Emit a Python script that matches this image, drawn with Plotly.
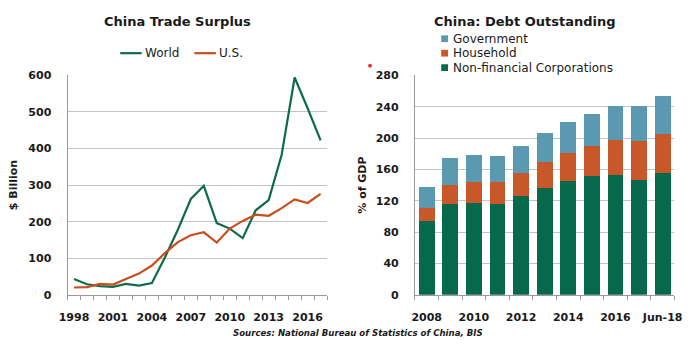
import plotly.graph_objects as go

# China trade surplus, $ billion
years = list(range(1998, 2018))
world = [43, 29, 24, 22, 30, 25, 32, 102, 178, 262, 298, 196, 181, 155, 231, 259, 383, 594, 510, 422]
us = [20, 21, 30, 28, 43, 58, 80, 114, 144, 163, 171, 143, 181, 202, 219, 216, 237, 261, 251, 276]
trade_ticks = [1998, 2001, 2004, 2007, 2010, 2013, 2016]

# China debt outstanding, % of GDP
debt_periods = ["2008", "2009", "2010", "2011", "2012", "2013", "2014", "2015", "2016", "2017", "Jun-18"]
corporations = [94, 116, 117, 116, 126, 136, 145, 151, 153, 147, 155]
household = [17, 24, 27, 28, 30, 34, 36, 39, 45, 49, 50]
government = [27, 34, 34, 33, 34, 36, 39, 41, 43, 45, 48]
debt_ticks = ["2008", "2010", "2012", "2014", "2016", "Jun-18"]

W, H = 700, 349
GREEN = "#0F6B4A"
ORANGE = "#C84E1E"
C_CORP = "#07694B"
C_HH = "#C8582A"
C_GOV = "#5A99AF"
GRID = "#C4C4C4"
AXIS = "#9A9A9A"
FONT = "DejaVu Sans"


def px(x):
    return x / W


def py(y):
    return 1 - y / H


fig = go.Figure()

fig.add_trace(go.Scatter(x=years, y=world, mode="lines", name="World",
                         line=dict(color=GREEN, width=2.2), xaxis="x", yaxis="y",
                         showlegend=False))
fig.add_trace(go.Scatter(x=years, y=us, mode="lines", name="U.S.",
                         line=dict(color=ORANGE, width=2.2), xaxis="x", yaxis="y",
                         showlegend=False))

xi = list(range(len(debt_periods)))
for name, vals, col in [("Non-financial Corporations", corporations, C_CORP),
                        ("Household", household, C_HH),
                        ("Government", government, C_GOV)]:
    fig.add_trace(go.Bar(x=xi, y=vals, name=name, marker=dict(color=col, line=dict(width=0)),
                         width=0.67, xaxis="x2", yaxis="y2", showlegend=False))

tick_font = dict(family=FONT, size=11, color="#1a1a1a", weight="bold")
y_dom = [py(300), py(72)]

fig.update_layout(
    width=W, height=H,
    margin=dict(l=0, r=0, t=0, b=0),
    paper_bgcolor="white", plot_bgcolor="white",
    barmode="stack",
    xaxis=dict(domain=[px(60), px(326)], range=[1997.5, 2017.5],
               tickvals=trade_ticks, ticks="", showgrid=False,
               showline=True, linecolor=AXIS, linewidth=1,
               minor=dict(ticks="outside", dtick=1, tick0=1997.5, ticklen=4,
                          tickcolor=AXIS, showgrid=False),
               tickfont=tick_font, ticklabelstandoff=12, zeroline=False),
    yaxis=dict(domain=y_dom, range=[0, 600], dtick=100, showgrid=True,
               gridcolor=GRID, gridwidth=1, showline=True, linecolor=AXIS,
               ticks="", tickfont=tick_font, ticklabelstandoff=13, zeroline=False,
               title=dict(text="$ Billion", font=dict(family=FONT, size=11, color="#1a1a1a", weight="bold"),
                          standoff=8)),
    xaxis2=dict(domain=[px(416), px(682)], range=[-0.5, 10.5],
                tickvals=[0, 2, 4, 6, 8, 10], ticktext=debt_ticks, ticks="",
                showgrid=False, showline=True, linecolor=AXIS, linewidth=1,
                minor=dict(ticks="outside", dtick=1, tick0=-0.5, ticklen=4,
                           tickcolor=AXIS, showgrid=False),
                tickfont=tick_font, ticklabelstandoff=12, zeroline=False),
    yaxis2=dict(domain=y_dom, range=[0, 280], dtick=40, showgrid=True,
                gridcolor=GRID, gridwidth=1, showline=True, linecolor=AXIS,
                ticks="", tickfont=tick_font, ticklabelstandoff=13, zeroline=False,
                anchor="x2",
                title=dict(text="% of GDP", font=dict(family=FONT, size=11, color="#1a1a1a", weight="bold"),
                           standoff=6)),
)


def label(text, x, y, size, xanchor="center"):
    return dict(text=text, x=px(x), y=py(y), xref="paper", yref="paper",
                xanchor=xanchor, yanchor="middle", showarrow=False,
                font=dict(family=FONT, size=size, color="#1a1a1a"))


annotations = [
    label("<b>China Trade Surplus</b>", 173, 16, 13),
    label("<b>China: Debt Outstanding</b>", 528, 16, 13),
    label("<b><i>Sources: National Bureau of Statistics of China, BIS</i></b>", 358, 340, 8.6),
]

shapes = []
# line legend for the trade chart
for x0, text, col in [(114, "World", GREEN), (190, "U.S.", ORANGE)]:
    shapes.append(dict(type="line", xref="paper", yref="paper", x0=px(x0), x1=px(x0 + 22),
                       y0=py(49), y1=py(49), line=dict(color=col, width=2.2)))
    annotations.append(label(text, x0 + 23, 49, 12, "left"))

# square legend for the debt chart
for yy, text, col in [(34, "Government", C_GOV), (49, "Household", C_HH),
                      (64, "Non-financial Corporations", C_CORP)]:
    shapes.append(dict(type="rect", xref="paper", yref="paper", x0=px(443), x1=px(450),
                       y0=py(yy + 3.5), y1=py(yy - 3.5), fillcolor=col, line=dict(width=0)))
    annotations.append(label(text, 453, yy, 12, "left"))

# small red marker left of the debt chart
shapes.append(dict(type="circle", xref="paper", yref="paper", x0=px(368), x1=px(372),
                   y0=py(64), y1=py(60), fillcolor="#E8302A", line=dict(width=0)))

fig.update_layout(annotations=annotations, shapes=shapes)

fig.write_html("out.html")
